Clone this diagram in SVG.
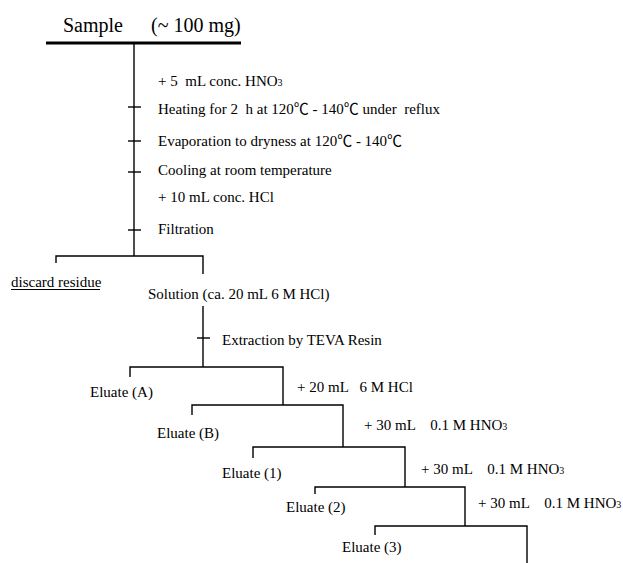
<svg xmlns="http://www.w3.org/2000/svg" width="623" height="563" viewBox="0 0 623 563">
<style>
text{font-family:"Liberation Serif","Noto Sans CJK SC",serif;font-size:15px;fill:#000;white-space:pre}
.big{font-size:20px}
.sub{font-size:10px}
#connectors line,#connectors path{stroke:#000;stroke-width:1.4;fill:none}
</style>
<rect width="623" height="563" fill="#fff"/>
<g id="connectors">
<line x1="46" y1="43" x2="241" y2="43" style="stroke-width:3"/>
<line x1="134" y1="43" x2="134" y2="256"/>
<line x1="128" y1="107" x2="141" y2="107"/>
<line x1="128" y1="141" x2="141" y2="141"/>
<line x1="128" y1="172" x2="141" y2="172"/>
<line x1="128" y1="230" x2="141" y2="230"/>
<path d="M56 263V256H203V274"/>
<line x1="203" y1="306" x2="203" y2="367"/>
<line x1="197" y1="338" x2="210" y2="338"/>
<path d="M130 377V367H283V405"/>
<path d="M192 415V405H343V447"/>
<path d="M253 458V447H405V487"/>
<path d="M315 494V487H465V526"/>
<path d="M375 535V526H527V563"/>
<line x1="11" y1="289.5" x2="100" y2="289.5" style="stroke-width:1"/>
</g>
<g id="sample"><text class="big" x="63" y="32">Sample</text><text class="big" x="151" y="32">(~ 100 mg)</text></g>
<g id="step1"><text x="158" y="86">+ 5  mL conc. HNO<tspan class="sub">3</tspan></text></g>
<g id="step2"><text x="158" y="114">Heating for 2  h at 120℃ - 140℃ under  reflux</text></g>
<g id="step3"><text x="158" y="146">Evaporation to dryness at 120℃ - 140℃</text></g>
<g id="step4"><text x="158" y="175">Cooling at room temperature</text></g>
<g id="step5"><text x="158" y="202">+ 10 mL conc. HCl</text></g>
<g id="step6"><text x="158" y="234">Filtration</text></g>
<g id="discard"><text x="11" y="287">discard residue</text></g>
<g id="solution"><text x="148" y="299">Solution (ca. 20 mL 6 M HCl)</text></g>
<g id="extraction"><text x="222" y="345">Extraction by TEVA Resin</text></g>
<g id="eluateA"><text x="90" y="397">Eluate (A)</text></g>
<g id="add1"><text x="297" y="392">+ 20 mL   6 M HCl</text></g>
<g id="eluateB"><text x="157" y="438">Eluate (B)</text></g>
<g id="add2"><text x="364" y="430">+ 30 mL    0.1 M HNO<tspan class="sub">3</tspan></text></g>
<g id="eluate1"><text x="222" y="478">Eluate (1)</text></g>
<g id="add3"><text x="421" y="474">+ 30 mL    0.1 M HNO<tspan class="sub">3</tspan></text></g>
<g id="eluate2"><text x="286" y="512">Eluate (2)</text></g>
<g id="add4"><text x="478" y="508">+ 30 mL    0.1 M HNO<tspan class="sub">3</tspan></text></g>
<g id="eluate3"><text x="342" y="552">Eluate (3)</text></g>
</svg>
